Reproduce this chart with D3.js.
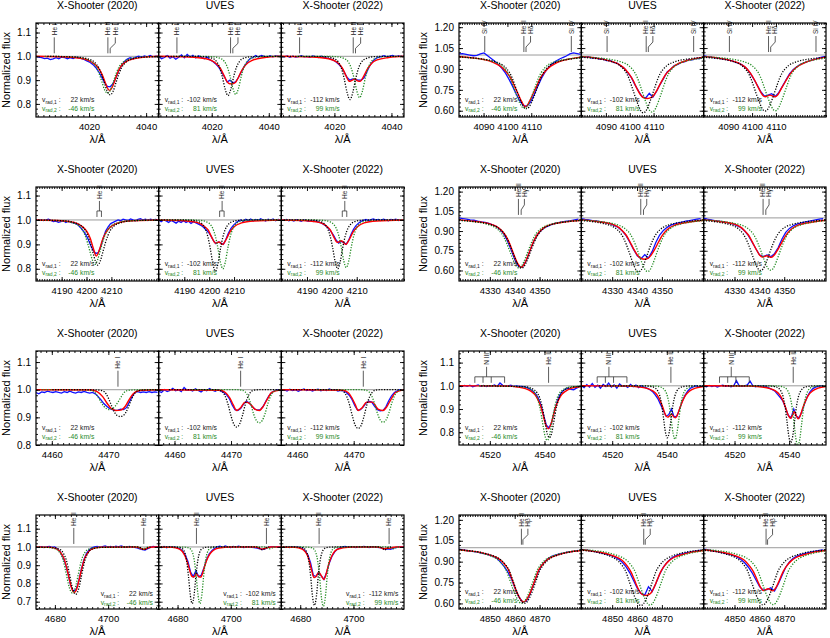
<!DOCTYPE html>
<html>
<head>
<meta charset="utf-8">
<script src="https://cdn.jsdelivr.net/npm/d3@7"></script>
<style>
  body { margin: 0; background: #fff; }
  svg { display: block; font-family: "Liberation Sans", Arial, Helvetica, sans-serif; }
</style>
</head>
<body>
<script>
// one row of three panels per spectral window, one panel per epoch
const epochs = ["X-Shooter (2020)", "UVES", "X-Shooter (2022)"];
const vRad1 = [22, -102, -112];
const vRad2 = [-46, 81, 99];

// wavelengths below are read against the printed axis labels of each window
const windows = ["He I 4026", "H delta", "He II 4200", "H gamma", "He I 4471", "He II 4541", "He II 4686", "H beta"];
const xDomains = [[4001.4, 4044.4], [4079.7, 4131], [4179.7, 4229], [4317.6, 4366.8],
                  [4457.2, 4478.9], [4508.7, 4553.5], [4672.9, 4719], [4837.6, 4886.8]];
const yDomains = [[0.745, 1.14], [0.555, 1.23], [0.75, 1.135], [0.52, 1.235],
                  [0.8, 1.14], [0.745, 1.15], [0.66, 1.175], [0.56, 1.235]];
const xTickValues = [[4020, 4040], [4090, 4100, 4110], [4190, 4200, 4210], [4330, 4340, 4350],
                     [4460, 4470], [4520, 4540], [4680, 4700], [4850, 4860, 4870]];
const xMinorStep = [2, 1, 1, 1, 1, 2, 2, 1];
const yTickValues = [[0.8, 0.9, 1.0, 1.1], [0.6, 0.75, 0.9, 1.05, 1.2], [0.8, 0.9, 1.0, 1.1], [0.6, 0.75, 0.9, 1.05, 1.2],
                     [0.8, 0.9, 1.0, 1.1], [0.8, 0.9, 1.0, 1.1], [0.7, 0.8, 0.9, 1.0, 1.1], [0.6, 0.75, 0.9, 1.05, 1.2]];
const yMinorStep = [0.02, 0.03, 0.02, 0.03, 0.02, 0.02, 0.02, 0.03];
const yTickFormat = [".1f", ".2f", ".1f", ".2f", ".1f", ".1f", ".1f", ".2f"];

// line identifications drawn above the continuum
const lineMarks = [
  [{kind: "single", lam: [4007.8], textLam: [4007.8], text: ["He I"]},
   {kind: "pair", lam: [4026.6, 4027.4], textLam: [4026.6, 4029.2], text: ["He II", "He I"]}],
  [{kind: "single", lam: [4090.5], textLam: [4090.5], text: ["Si IV"]},
   {kind: "pair", lam: [4106.9, 4107.8], textLam: [4106.9, 4109.7], text: ["He II", "Hδ"]},
   {kind: "single", lam: [4126.8], textLam: [4126.8], text: ["Si IV"]}],
  [{kind: "bracket", lam: [4204.2, 4206.0], textLam: [4205.2], text: ["He II"]}],
  [{kind: "pair", lam: [4341.5, 4342.6], textLam: [4341.5, 4343.9], text: ["He II", "Hγ"]}],
  [{kind: "single", lam: [4471.7], textLam: [4471.7], text: ["He I"]}],
  [{kind: "bracket", lam: [4514.5, 4517.5, 4520.5, 4525.4], textLam: [4518.8], text: ["N III"]},
   {kind: "single", lam: [4541.5], textLam: [4541.5], text: ["He II"]}],
  [{kind: "single", lam: [4687.1], textLam: [4687.1], text: ["He II"]},
   {kind: "single", lam: [4713.4], textLam: [4713.4], text: ["He I"]}],
  [{kind: "pair", lam: [4862.7, 4863.3], textLam: [4862.7, 4865.3], text: ["He II", "Hβ"]}]
];

// model components: half profiles (offset from line centre -> flux), per epoch
const profileOffsets = [
  [0, 1, 2, 3, 4, 5.5, 8, 12, 22],
  [0, 1, 2, 3, 4, 5, 6, 7, 8.5, 10, 13, 18, 25, 35],
  [0, 1, 2, 3, 4, 5, 6.5, 9, 13, 25],
  [0, 1, 2, 3, 4, 5, 6, 7, 8.5, 10, 13, 18, 25, 35],
  [0, 0.5, 1, 1.5, 2, 2.5, 3, 4, 6, 12],
  [0, 0.7, 1.4, 2.1, 2.8, 3.5, 4.5, 6, 9, 25],
  [0, 0.7, 1.4, 2.1, 2.8, 3.5, 4.5, 6, 9, 25],
  [0, 1, 2, 3, 4, 5, 6, 7.5, 9, 11, 14, 18, 24, 32]
];
const primaryFlux = [
  [[0.838, 0.852, 0.888, 0.924, 0.952, 0.975, 0.99, 0.997, 1.0],
   [0.835, 0.862, 0.915, 0.955, 0.978, 0.992, 0.998, 1.0, 1.0],
   [0.818, 0.848, 0.905, 0.95, 0.975, 0.99, 0.998, 1.0, 1.0]],
  [[0.615, 0.625, 0.655, 0.695, 0.74, 0.79, 0.835, 0.87, 0.905, 0.928, 0.952, 0.97, 0.983, 0.992],
   [0.585, 0.597, 0.632, 0.678, 0.728, 0.78, 0.828, 0.866, 0.902, 0.926, 0.951, 0.97, 0.983, 0.992],
   [0.598, 0.609, 0.642, 0.686, 0.734, 0.785, 0.831, 0.868, 0.903, 0.927, 0.951, 0.97, 0.983, 0.992]],
  [[0.815, 0.832, 0.868, 0.905, 0.935, 0.957, 0.975, 0.988, 0.996, 1.0],
   [0.79, 0.82, 0.88, 0.93, 0.962, 0.98, 0.992, 0.998, 1.0, 1.0],
   [0.8, 0.828, 0.885, 0.933, 0.963, 0.98, 0.992, 0.998, 1.0, 1.0]],
  [[0.618, 0.63, 0.665, 0.712, 0.762, 0.81, 0.85, 0.882, 0.912, 0.932, 0.953, 0.97, 0.982, 0.99],
   [0.59, 0.603, 0.642, 0.694, 0.749, 0.8, 0.843, 0.877, 0.909, 0.93, 0.952, 0.97, 0.982, 0.99],
   [0.6, 0.612, 0.65, 0.7, 0.753, 0.803, 0.845, 0.878, 0.91, 0.931, 0.952, 0.97, 0.982, 0.99]],
  [[0.903, 0.906, 0.918, 0.94, 0.965, 0.985, 0.995, 0.999, 1.0, 1.0],
   [0.865, 0.875, 0.905, 0.945, 0.975, 0.992, 0.998, 1.0, 1.0, 1.0],
   [0.86, 0.87, 0.902, 0.943, 0.974, 0.991, 0.998, 1.0, 1.0, 1.0]],
  [[0.777, 0.79, 0.83, 0.878, 0.918, 0.947, 0.97, 0.986, 0.996, 1.0],
   [0.776, 0.8, 0.86, 0.92, 0.958, 0.978, 0.991, 0.997, 1.0, 1.0],
   [0.755, 0.782, 0.847, 0.912, 0.953, 0.975, 0.99, 0.997, 1.0, 1.0]],
  [[0.74, 0.752, 0.785, 0.835, 0.885, 0.927, 0.963, 0.987, 0.997, 1.0],
   [0.69, 0.735, 0.84, 0.925, 0.97, 0.988, 0.996, 0.999, 1.0, 1.0],
   [0.68, 0.725, 0.835, 0.922, 0.968, 0.987, 0.996, 0.999, 1.0, 1.0]],
  [[0.6, 0.61, 0.64, 0.68, 0.73, 0.78, 0.83, 0.875, 0.905, 0.93, 0.95, 0.968, 0.982, 0.99],
   [0.585, 0.596, 0.628, 0.67, 0.722, 0.775, 0.826, 0.872, 0.903, 0.928, 0.95, 0.968, 0.982, 0.99],
   [0.59, 0.6, 0.632, 0.674, 0.725, 0.777, 0.828, 0.873, 0.904, 0.929, 0.95, 0.968, 0.982, 0.99]]
];
const secondaryFlux = [
  [[0.845, 0.858, 0.893, 0.928, 0.955, 0.976, 0.99, 0.997, 1.0],
   [0.84, 0.866, 0.918, 0.957, 0.979, 0.992, 0.998, 1.0, 1.0],
   [0.826, 0.855, 0.91, 0.952, 0.977, 0.991, 0.998, 1.0, 1.0]],
  [[0.618, 0.628, 0.658, 0.698, 0.743, 0.793, 0.838, 0.872, 0.907, 0.93, 0.953, 0.97, 0.983, 0.992],
   [0.59, 0.602, 0.636, 0.681, 0.731, 0.782, 0.83, 0.867, 0.903, 0.927, 0.951, 0.97, 0.983, 0.992],
   [0.6, 0.611, 0.644, 0.688, 0.736, 0.786, 0.832, 0.869, 0.904, 0.927, 0.951, 0.97, 0.983, 0.992]],
  [[0.818, 0.835, 0.87, 0.907, 0.937, 0.958, 0.976, 0.988, 0.996, 1.0],
   [0.8, 0.828, 0.885, 0.933, 0.964, 0.981, 0.992, 0.998, 1.0, 1.0],
   [0.805, 0.832, 0.888, 0.935, 0.965, 0.981, 0.992, 0.998, 1.0, 1.0]],
  [[0.62, 0.632, 0.667, 0.714, 0.763, 0.811, 0.851, 0.883, 0.912, 0.932, 0.953, 0.97, 0.982, 0.99],
   [0.592, 0.605, 0.644, 0.696, 0.75, 0.801, 0.844, 0.878, 0.909, 0.93, 0.952, 0.97, 0.982, 0.99],
   [0.602, 0.614, 0.652, 0.702, 0.754, 0.804, 0.846, 0.879, 0.91, 0.931, 0.952, 0.97, 0.982, 0.99]],
  [[0.928, 0.931, 0.94, 0.955, 0.972, 0.988, 0.996, 0.999, 1.0, 1.0],
   [0.88, 0.888, 0.912, 0.948, 0.977, 0.992, 0.998, 1.0, 1.0, 1.0],
   [0.882, 0.89, 0.914, 0.949, 0.977, 0.992, 0.998, 1.0, 1.0, 1.0]],
  [[0.765, 0.779, 0.82, 0.87, 0.912, 0.943, 0.968, 0.985, 0.996, 1.0],
   [0.77, 0.795, 0.855, 0.917, 0.956, 0.977, 0.99, 0.997, 1.0, 1.0],
   [0.742, 0.77, 0.838, 0.907, 0.95, 0.974, 0.99, 0.997, 1.0, 1.0]],
  [[0.748, 0.76, 0.792, 0.84, 0.888, 0.93, 0.964, 0.987, 0.997, 1.0],
   [0.69, 0.735, 0.84, 0.925, 0.97, 0.988, 0.996, 0.999, 1.0, 1.0],
   [0.675, 0.72, 0.832, 0.92, 0.967, 0.987, 0.996, 0.999, 1.0, 1.0]],
  [[0.6, 0.61, 0.64, 0.68, 0.73, 0.78, 0.83, 0.875, 0.905, 0.93, 0.95, 0.968, 0.982, 0.99],
   [0.588, 0.599, 0.631, 0.673, 0.724, 0.776, 0.827, 0.872, 0.903, 0.928, 0.95, 0.968, 0.982, 0.99],
   [0.592, 0.602, 0.634, 0.676, 0.726, 0.778, 0.828, 0.873, 0.904, 0.929, 0.95, 0.968, 0.982, 0.99]]
];
const primaryCenter = [[4027.4, 4025.7, 4025.45], [4108.0, 4105.75, 4105.5], [4204.55, 4202.5, 4202.35], [4342.75, 4340.65, 4340.5],
                       [4472.1, 4471.0, 4470.8], [4541.8, 4540.2, 4540.6], [4687.8, 4685.5, 4685.35], [4863.95, 4861.55, 4861.4]];
const secondaryCenter = [[4026.5, 4028.4, 4028.85], [4107.1, 4109.35, 4109.75], [4203.4, 4205.5, 4205.8], [4341.7, 4344.25, 4344.5],
                         [4470.2, 4475.0, 4475.2], [4541.0, 4543.0, 4543.2], [4686.55, 4688.4, 4688.7], [4862.8, 4865.25, 4865.55]];

// weak He I 4713 line in the He II 4686 window
const weakOffsets = [0, 0.7, 1.4, 2.5];
const weakCenter1 = [4713.6, 4711.9, 4711.8];
const weakCenter2 = [4713.0, 4714.7, 4715.0];
const weakFlux1 = [[0.985, 0.989, 0.996, 1.0], [0.984, 0.99, 0.997, 1.0], [0.984, 0.99, 0.997, 1.0]];
const weakFlux2 = [[0.99, 0.992, 0.997, 1.0], [0.99, 0.993, 0.998, 1.0], [0.99, 0.993, 0.998, 1.0]];

// composite model (red), [wavelength, flux]
const compositeFlux = [
  [[[4001.4,1.0],[4012,0.997],[4018,0.99],[4021,0.975],[4023,0.955],[4024.5,0.925],[4025.5,0.895],[4026.3,0.87],[4027.1,0.857],[4027.9,0.865],[4028.8,0.89],[4029.8,0.925],[4031,0.955],[4033,0.978],[4036,0.99],[4040,0.997],[4044.4,1.0]],
   [[4001.4,1.0],[4012,0.997],[4018,0.99],[4021,0.975],[4023,0.95],[4024.3,0.92],[4025.3,0.895],[4026.3,0.885],[4027.3,0.885],[4028.3,0.89],[4029.3,0.91],[4030.5,0.94],[4032,0.965],[4034,0.982],[4038,0.994],[4044.4,1.0]],
   [[4001.4,1.0],[4012,0.997],[4018,0.99],[4021,0.975],[4022.8,0.95],[4024,0.92],[4025.2,0.895],[4026.3,0.9],[4027.2,0.905],[4028.1,0.897],[4029.1,0.895],[4030.2,0.915],[4031.5,0.945],[4033,0.97],[4035,0.985],[4039,0.995],[4044.4,1.0]]],
  [[[4079.7,0.99],[4085,0.98],[4090,0.968],[4094,0.948],[4097,0.92],[4099.5,0.88],[4101.5,0.83],[4103,0.775],[4104.5,0.72],[4106,0.665],[4107.6,0.628],[4109.2,0.665],[4110.7,0.72],[4112.2,0.775],[4113.7,0.83],[4115.7,0.88],[4118.2,0.92],[4121,0.948],[4125,0.968],[4131,0.985]],
   [[4079.7,0.99],[4085,0.98],[4090,0.965],[4094,0.945],[4097,0.915],[4099.5,0.87],[4101.5,0.815],[4103,0.76],[4104.5,0.715],[4106,0.692],[4107.3,0.688],[4108.6,0.692],[4110,0.71],[4111.5,0.75],[4113,0.8],[4115,0.86],[4117.5,0.905],[4120.5,0.94],[4125,0.965],[4131,0.985]],
   [[4079.7,0.99],[4085,0.98],[4090,0.965],[4094,0.945],[4097,0.915],[4099.3,0.87],[4101.2,0.815],[4102.8,0.76],[4104.3,0.715],[4105.5,0.7],[4107.5,0.712],[4109.5,0.7],[4110.8,0.715],[4112.3,0.76],[4114,0.81],[4116,0.865],[4118.5,0.91],[4121.5,0.94],[4125.5,0.965],[4131,0.985]]],
  [[[4179.7,1.0],[4190,0.997],[4195,0.99],[4198,0.975],[4200,0.955],[4201.5,0.925],[4202.7,0.885],[4203.9,0.852],[4205.1,0.875],[4206.3,0.915],[4207.6,0.945],[4209.5,0.97],[4212,0.985],[4216,0.995],[4229,1.0]],
   [[4179.7,1.0],[4190,0.997],[4195,0.99],[4197.5,0.978],[4199.5,0.96],[4201,0.93],[4202.5,0.905],[4204,0.91],[4205.4,0.9],[4206.8,0.92],[4208.3,0.95],[4210,0.972],[4213,0.988],[4218,0.996],[4229,1.0]],
   [[4179.7,1.0],[4190,0.997],[4195,0.99],[4197.5,0.978],[4199.3,0.96],[4200.8,0.93],[4202.2,0.908],[4203.8,0.915],[4205.6,0.9],[4207,0.92],[4208.5,0.95],[4210.3,0.972],[4213,0.988],[4218,0.996],[4229,1.0]]],
  [[[4317.6,0.985],[4322,0.977],[4327,0.966],[4330,0.955],[4332.6,0.935],[4334.1,0.915],[4335.6,0.885],[4337.1,0.84],[4338.6,0.775],[4340.1,0.7],[4341.3,0.65],[4342.6,0.625],[4343.9,0.65],[4345.1,0.7],[4346.6,0.775],[4348.1,0.84],[4349.6,0.885],[4351.1,0.915],[4352.6,0.935],[4355.6,0.955],[4360.6,0.97],[4366.8,0.982]],
   [[4317.6,0.985],[4322,0.977],[4327,0.965],[4330,0.952],[4332,0.935],[4334,0.905],[4335.6,0.87],[4337.1,0.82],[4338.6,0.765],[4340.1,0.718],[4341.6,0.692],[4342.9,0.686],[4344.2,0.69],[4345.6,0.715],[4347.1,0.76],[4348.6,0.815],[4350.1,0.865],[4351.6,0.9],[4353.1,0.925],[4355.6,0.948],[4360.6,0.967],[4366.8,0.982]],
   [[4317.6,0.985],[4322,0.977],[4327,0.965],[4330,0.952],[4332,0.935],[4334,0.905],[4335.6,0.87],[4337.1,0.82],[4338.6,0.765],[4340,0.72],[4341.3,0.702],[4343,0.712],[4344.8,0.7],[4346.1,0.72],[4347.6,0.765],[4349.1,0.815],[4350.6,0.865],[4352.1,0.9],[4353.6,0.925],[4356,0.948],[4361,0.967],[4366.8,0.982]]],
  [[[4457.2,1.0],[4467,0.999],[4468,0.993],[4469,0.975],[4469.8,0.95],[4470.5,0.932],[4471.3,0.925],[4472.2,0.926],[4473,0.94],[4473.7,0.965],[4474.4,0.985],[4475.5,0.997],[4478.9,1.0]],
   [[4457.2,1.0],[4468,0.998],[4469,0.99],[4469.8,0.97],[4470.4,0.945],[4471,0.925],[4471.7,0.935],[4472.5,0.955],[4473.3,0.95],[4474.2,0.93],[4475,0.925],[4475.7,0.94],[4476.4,0.965],[4477.2,0.99],[4478.9,1.0]],
   [[4457.2,1.0],[4468,0.998],[4469,0.99],[4469.7,0.97],[4470.3,0.945],[4470.8,0.925],[4471.5,0.935],[4472.3,0.955],[4473.3,0.955],[4474.3,0.93],[4475.2,0.925],[4475.9,0.94],[4476.6,0.965],[4477.4,0.99],[4478.9,1.0]]],
  [[[4508.7,1.0],[4525,0.999],[4530,0.995],[4533,0.988],[4535,0.977],[4536.5,0.962],[4537.6,0.94],[4538.6,0.912],[4539.5,0.875],[4540.4,0.835],[4541.4,0.815],[4542.4,0.835],[4543.3,0.875],[4544.2,0.912],[4545.2,0.94],[4546.3,0.962],[4547.8,0.977],[4550,0.99],[4553.5,0.997]],
   [[4508.7,1.0],[4525,0.999],[4530,0.995],[4533,0.988],[4535,0.977],[4536.5,0.96],[4537.6,0.935],[4538.6,0.905],[4539.5,0.875],[4540.3,0.865],[4541.1,0.872],[4541.7,0.878],[4542.3,0.87],[4543.1,0.862],[4543.9,0.875],[4544.8,0.905],[4545.8,0.935],[4546.9,0.96],[4548.4,0.978],[4550.5,0.99],[4553.5,0.997]],
   [[4508.7,1.0],[4525,0.999],[4530,0.995],[4533,0.988],[4535,0.978],[4536.5,0.962],[4537.6,0.94],[4538.6,0.91],[4539.6,0.875],[4540.5,0.86],[4541.3,0.875],[4541.9,0.888],[4542.5,0.875],[4543.3,0.858],[4544.1,0.872],[4545,0.905],[4546,0.935],[4547.1,0.96],[4548.6,0.978],[4550.6,0.99],[4553.5,0.997]]],
  [[[4672.9,1.0],[4678,0.998],[4681,0.987],[4682.5,0.962],[4683.7,0.925],[4684.6,0.875],[4685.5,0.82],[4686.4,0.77],[4687.3,0.752],[4688.2,0.77],[4689.1,0.82],[4690,0.875],[4690.9,0.925],[4692.1,0.962],[4693.6,0.987],[4697,0.998],[4710,1.0],[4711.5,0.997],[4712.5,0.99],[4713.4,0.987],[4714.3,0.99],[4715.3,0.997],[4717,1.0],[4719,1.0]],
   [[4672.9,1.0],[4678,0.998],[4680.5,0.99],[4681.8,0.975],[4682.8,0.95],[4683.7,0.915],[4684.5,0.875],[4685.3,0.84],[4686.1,0.835],[4687,0.855],[4687.9,0.838],[4688.7,0.835],[4689.5,0.86],[4690.3,0.9],[4691.2,0.935],[4692.2,0.962],[4693.5,0.982],[4695.5,0.994],[4700,1.0],[4709,1.0],[4710.5,0.995],[4711.5,0.988],[4712.5,0.99],[4713.5,0.995],[4715,1.0],[4719,1.0]],
   [[4672.9,1.0],[4678,0.998],[4680.5,0.99],[4681.8,0.975],[4682.8,0.95],[4683.6,0.912],[4684.4,0.865],[4685.2,0.832],[4686,0.84],[4687,0.862],[4688,0.84],[4688.9,0.822],[4689.7,0.85],[4690.5,0.895],[4691.4,0.935],[4692.4,0.965],[4693.7,0.985],[4696,0.995],[4700,1.0],[4709,1.0],[4710.5,0.995],[4711.5,0.99],[4712.5,0.993],[4713.5,0.992],[4714.5,0.996],[4716,1.0],[4719,1.0]]],
  [[[4837.6,0.985],[4841,0.978],[4845.6,0.968],[4849.6,0.95],[4852.6,0.93],[4854.6,0.907],[4856.1,0.878],[4857.6,0.838],[4858.6,0.79],[4859.6,0.742],[4860.6,0.692],[4861.6,0.652],[4862.6,0.622],[4863.6,0.612],[4864.6,0.622],[4865.6,0.652],[4866.6,0.692],[4867.6,0.742],[4868.6,0.79],[4869.6,0.838],[4871.1,0.878],[4872.6,0.907],[4874.6,0.93],[4877.6,0.95],[4881.6,0.968],[4886.8,0.98]],
   [[4837.6,0.985],[4841,0.978],[4845.6,0.966],[4849.6,0.947],[4852.6,0.925],[4854.6,0.9],[4856.1,0.868],[4857.6,0.825],[4858.6,0.785],[4859.6,0.74],[4860.6,0.7],[4861.6,0.672],[4862.6,0.66],[4863.6,0.658],[4864.6,0.662],[4865.6,0.675],[4866.6,0.705],[4867.6,0.745],[4868.6,0.79],[4869.6,0.83],[4871.1,0.872],[4872.6,0.902],[4874.6,0.928],[4877.6,0.948],[4881.6,0.967],[4886.8,0.98]],
   [[4837.6,0.985],[4841,0.978],[4845.6,0.966],[4849.6,0.947],[4852.6,0.925],[4854.6,0.9],[4856.1,0.868],[4857.6,0.828],[4858.6,0.79],[4859.6,0.748],[4860.6,0.712],[4861.7,0.692],[4863.6,0.705],[4865.5,0.69],[4866.6,0.712],[4867.6,0.748],[4868.6,0.79],[4869.6,0.83],[4871.1,0.872],[4872.6,0.902],[4874.6,0.928],[4877.6,0.948],[4881.6,0.967],[4886.8,0.98]]]
];

// observed spectra (blue), sampled from the window start with a fixed step
const observedStart = [4001.4, 4079.7, 4179.7, 4317.6, 4457.2, 4508.7, 4672.9, 4837.6];
const observedStep = [1, 1.5, 1, 1.5, 0.5, 1, 1, 1.5];
const observedFlux = [
  [[1.0,0.997,0.994,0.99,0.992,0.986,0.989,0.994,0.99,0.997,0.995,0.99,0.994,0.991,0.996,0.993,0.99,0.986,0.98,0.974,0.965,0.952,0.935,0.913,0.89,0.874,0.872,0.885,0.91,0.94,0.962,0.978,0.988,0.994,0.99,0.997,1.001,0.996,1.002,0.998,1.004,0.998,1.001,1.0],
   [1.0,0.99,0.995,1.003,0.992,0.998,0.988,0.996,1.006,0.994,1.008,0.997,1.004,0.993,1.002,0.996,0.99,0.997,0.985,0.978,0.968,0.955,0.935,0.915,0.892,0.9,0.888,0.893,0.912,0.935,0.958,0.975,0.99,0.995,1.003,0.997,1.004,1.0,0.996,1.003,0.998,1.002,1.0,1.001],
   [1.0,0.998,1.002,0.996,1.001,0.997,0.999,1.003,0.998,1.0,0.996,1.002,0.999,0.995,1.0,0.996,0.992,0.99,0.985,0.978,0.968,0.955,0.935,0.912,0.9,0.905,0.902,0.9,0.9,0.91,0.935,0.96,0.978,0.99,0.996,0.999,1.003,0.998,1.001,1.004,0.999,1.002,1.0,1.0]],
  [[1.008,1.01,1.005,1.0,0.995,0.998,1.008,1.015,0.995,0.975,0.955,0.932,0.905,0.87,0.825,0.775,0.72,0.67,0.637,0.633,0.662,0.715,0.775,0.83,0.875,0.91,0.935,0.955,0.97,0.982,0.993,1.008,1.016,1.01,1.004],
   [0.99,0.984,0.988,0.978,0.981,0.97,0.972,0.96,0.962,0.948,0.942,0.922,0.906,0.872,0.838,0.786,0.742,0.7,0.692,0.725,0.698,0.738,0.788,0.832,0.878,0.898,0.924,0.932,0.948,0.952,0.966,0.965,0.976,0.975,0.985],
   [0.995,0.988,0.986,0.98,0.979,0.972,0.97,0.963,0.958,0.948,0.94,0.924,0.904,0.87,0.828,0.783,0.735,0.705,0.712,0.722,0.702,0.73,0.775,0.82,0.865,0.895,0.915,0.932,0.944,0.953,0.962,0.968,0.978,0.985,0.99]],
  [[1.0,0.998,1.0,0.997,1.0,1.003,0.998,0.993,0.995,0.99,0.993,0.997,0.99,0.995,0.99,0.988,0.985,0.978,0.968,0.955,0.94,0.92,0.895,0.875,0.863,0.866,0.89,0.925,0.955,0.972,0.985,0.99,0.995,1.0,0.997,1.003,1.0,0.998,1.004,1.0,0.997,1.002,1.005,1.0,1.003,0.998,1.003,1.0,1.002,1.0],
   [1.0,0.993,1.0,0.996,0.99,0.998,0.993,0.987,0.995,0.99,0.997,0.99,0.995,0.986,0.993,0.988,0.983,0.978,0.97,0.96,0.95,0.935,0.915,0.903,0.91,0.905,0.9,0.92,0.945,0.965,0.978,0.988,0.995,1.0,0.994,1.003,0.998,1.004,0.996,1.002,0.998,1.005,1.0,0.996,1.003,0.999,1.004,0.997,1.002,1.0],
   [1.0,0.998,1.002,0.997,1.0,0.996,1.001,0.998,0.995,1.0,0.997,0.994,0.998,0.993,0.996,0.99,0.988,0.982,0.975,0.965,0.952,0.937,0.918,0.905,0.912,0.908,0.9,0.915,0.94,0.962,0.977,0.987,0.994,0.998,1.002,0.997,1.001,1.004,0.999,1.002,0.998,1.003,1.0,0.997,1.002,1.0,1.003,0.998,1.001,1.0]],
  [[1.0,0.995,0.99,0.985,0.982,0.975,0.97,0.966,0.958,0.948,0.935,0.912,0.878,0.825,0.755,0.68,0.63,0.628,0.675,0.75,0.82,0.872,0.905,0.928,0.94,0.952,0.96,0.966,0.972,0.976,0.98,0.985,0.99],
   [0.995,0.988,0.985,0.98,0.978,0.972,0.966,0.96,0.952,0.94,0.925,0.9,0.865,0.815,0.76,0.712,0.69,0.72,0.695,0.745,0.815,0.87,0.905,0.928,0.945,0.955,0.962,0.968,0.975,0.98,0.985,0.99,0.995],
   [0.998,0.99,0.985,0.98,0.976,0.972,0.966,0.96,0.952,0.94,0.925,0.9,0.865,0.815,0.765,0.718,0.705,0.718,0.705,0.728,0.775,0.84,0.89,0.92,0.94,0.952,0.96,0.968,0.974,0.98,0.985,0.99,0.995]],
  [[0.99,0.985,0.992,0.99,0.995,0.992,0.99,0.993,0.99,0.988,0.993,0.99,0.995,0.99,0.988,0.992,0.99,0.994,0.99,0.988,0.99,0.985,0.975,0.963,0.95,0.94,0.932,0.928,0.925,0.926,0.93,0.928,0.935,0.955,0.975,0.99,0.993,0.99,0.992,0.99,0.993,0.99,0.992,0.99],
   [0.995,0.99,1.0,0.993,0.997,1.005,0.996,1.0,0.993,1.008,0.998,1.0,0.995,1.003,0.997,0.992,1.0,0.996,1.004,0.998,0.994,1.0,0.995,0.99,0.982,0.968,0.945,0.928,0.925,0.932,0.948,0.958,0.953,0.94,0.93,0.926,0.928,0.94,0.96,0.978,0.99,0.996,1.0,0.997],
   [0.998,1.0,0.995,1.002,0.997,1.0,0.994,0.999,1.003,0.997,1.0,0.995,0.999,1.002,0.996,1.0,0.997,1.003,0.998,1.0,0.995,0.998,0.996,0.99,0.98,0.965,0.942,0.926,0.928,0.938,0.952,0.958,0.955,0.94,0.928,0.924,0.925,0.938,0.96,0.978,0.99,0.996,1.0,0.998]],
  [[1.0,0.997,1.002,0.998,1.003,0.996,1.0,1.004,0.998,1.002,0.997,1.001,0.999,1.004,0.997,1.012,1.002,0.998,1.0,1.003,0.997,1.0,0.998,0.997,0.995,0.992,0.986,0.978,0.966,0.948,0.918,0.872,0.83,0.818,0.845,0.895,0.935,0.962,0.978,0.986,0.99,0.985,0.983,0.99,0.995],
   [1.0,0.992,1.005,0.995,1.01,0.994,1.003,0.99,1.006,0.997,1.012,0.995,1.004,0.99,1.008,0.998,1.0,0.993,1.006,0.996,1.003,0.992,1.0,0.994,0.99,0.984,0.976,0.962,0.945,0.92,0.895,0.87,0.875,0.9,0.865,0.87,0.9,0.935,0.96,0.978,0.99,0.995,1.0,0.996,1.0],
   [1.0,0.996,1.002,0.997,1.001,0.995,1.0,1.003,0.998,1.001,0.996,1.0,1.022,1.0,0.998,1.0,1.004,1.02,1.0,0.996,1.001,0.998,1.0,0.996,0.99,0.984,0.978,0.964,0.95,0.935,0.905,0.872,0.862,0.9,0.868,0.862,0.89,0.925,0.955,0.975,0.988,0.994,0.998,1.0,1.0]],
  [[1.0,0.998,1.002,0.997,1.0,1.003,0.998,1.0,0.99,0.975,0.95,0.91,0.855,0.79,0.758,0.765,0.81,0.875,0.93,0.965,0.985,0.995,1.0,1.003,0.998,1.002,1.006,0.999,1.003,0.998,1.004,1.0,1.006,1.0,0.998,1.003,1.0,0.998,0.995,0.99,0.985,0.983,0.99,0.997,1.003,1.0,1.002],
   [1.0,0.997,1.003,0.996,1.002,0.998,1.0,0.995,0.99,0.978,0.955,0.92,0.862,0.838,0.87,0.838,0.845,0.885,0.93,0.962,0.98,0.993,1.0,1.004,0.998,1.005,1.0,0.997,1.003,0.999,1.004,1.0,0.996,1.002,1.0,0.998,0.996,0.993,0.99,0.986,0.99,0.996,1.0,1.002,1.0,1.0,1.0],
   [1.0,0.998,1.002,0.997,1.001,0.999,1.0,0.996,0.99,0.978,0.955,0.912,0.845,0.838,0.862,0.842,0.822,0.86,0.91,0.948,0.972,0.987,0.995,1.0,1.003,0.998,1.002,1.0,0.997,1.002,0.999,1.003,1.0,0.997,1.002,1.0,0.998,0.996,0.993,0.988,0.99,0.987,0.992,0.997,1.0,1.0,1.0]],
  [[0.99,0.985,0.98,0.976,0.972,0.968,0.962,0.956,0.948,0.94,0.928,0.9,0.87,0.83,0.78,0.71,0.648,0.612,0.615,0.665,0.74,0.815,0.868,0.9,0.925,0.94,0.948,0.955,0.962,0.968,0.972,0.976,0.98],
   [0.988,0.985,0.98,0.975,0.97,0.965,0.958,0.952,0.944,0.932,0.918,0.895,0.862,0.82,0.765,0.71,0.672,0.66,0.72,0.685,0.745,0.81,0.86,0.895,0.922,0.938,0.948,0.956,0.963,0.968,0.973,0.978,0.982],
   [0.99,0.986,0.98,0.976,0.97,0.965,0.958,0.952,0.944,0.932,0.916,0.892,0.86,0.82,0.77,0.72,0.695,0.7,0.712,0.69,0.74,0.8,0.86,0.898,0.924,0.94,0.95,0.958,0.964,0.97,0.975,0.98,0.984]]
];

// ---------------------------------------------------------------- layout
const width = 830, height = 638;
const colLeft = [36, 459], colWidth = [368, 367];
const rowTop = [23, 187, 351, 515], panelH = 94;
const yLabelOffset = [26, 32];

const svg = d3.select("body").append("svg")
    .attr("width", width)
    .attr("height", height);

const smooth = d3.line().curve(d3.curveMonotoneX);
const jagged = d3.line();

function mirrored(offsets, flux, centre) {
  const pts = [];
  for (let i = offsets.length - 1; i > 0; i--) pts.push([centre - offsets[i], flux[i]]);
  for (let i = 0; i < offsets.length; i++) pts.push([centre + offsets[i], flux[i]]);
  return pts;
}

function withWeakLine(pts, centre, flux) {
  const reach = weakOffsets[weakOffsets.length - 1];
  const weak = mirrored(weakOffsets, flux, centre);
  return pts.filter(d => d[0] < centre - reach || d[0] > centre + reach)
    .concat(weak).sort((a, b) => a[0] - b[0]);
}

function minorValues(domain, step) {
  const out = [];
  const start = Math.ceil(domain[0] / step - 1e-9);
  for (let k = start; k * step <= domain[1] + 1e-9; k++) out.push(+(k * step).toFixed(4));
  return out;
}

windows.forEach((name, g) => {
  const col = g % 2, row = Math.floor(g / 2);
  const pw = colWidth[col] / 3;
  const top = rowTop[row];

  epochs.forEach((title, e) => {
    const left = colLeft[col] + e * pw;
    const x = d3.scaleLinear().domain(xDomains[g]).range([left, left + pw]);
    const y = d3.scaleLinear().domain(yDomains[g]).range([top + panelH, top]);
    const panel = svg.append("g");

    const clipId = `clip-${g}-${e}`;
    svg.append("clipPath").attr("id", clipId)
      .append("rect").attr("x", left).attr("y", top).attr("width", pw).attr("height", panelH);

    panel.append("text")
        .attr("x", left + pw / 2).attr("y", top - 14)
        .attr("text-anchor", "middle")
        .attr("font-size", 10.5)
        .text(title);

    // continuum reference
    panel.append("line")
        .attr("x1", left).attr("x2", left + pw)
        .attr("y1", y(1)).attr("y2", y(1))
        .attr("stroke", "#9a9a9a").attr("stroke-width", 1);

    const plot = panel.append("g").attr("clip-path", `url(#${clipId})`);
    const toPx = pts => pts.map(d => [x(d[0]), y(d[1])]);

    // observed spectrum
    const obs = observedFlux[g][e].map((f, i) => [observedStart[g] + i * observedStep[g], f]);
    plot.append("path")
        .attr("d", jagged(toPx(obs)))
        .attr("fill", "none").attr("stroke", "#1010ff").attr("stroke-width", 1.3);

    // composite model
    plot.append("path")
        .attr("d", smooth(toPx(compositeFlux[g][e])))
        .attr("fill", "none").attr("stroke", "#ff0000").attr("stroke-width", 1.4);

    // individual components
    let p1 = mirrored(profileOffsets[g], primaryFlux[g][e], primaryCenter[g][e]);
    let p2 = mirrored(profileOffsets[g], secondaryFlux[g][e], secondaryCenter[g][e]);
    if (g === 6) {
      p1 = withWeakLine(p1, weakCenter1[e], weakFlux1[e]);
      p2 = withWeakLine(p2, weakCenter2[e], weakFlux2[e]);
    }
    plot.append("path")
        .attr("d", smooth(toPx(p2)))
        .attr("fill", "none").attr("stroke", "#1f8a1f").attr("stroke-width", 1.3)
        .attr("stroke-dasharray", "1.2,1.5");
    plot.append("path")
        .attr("d", smooth(toPx(p1)))
        .attr("fill", "none").attr("stroke", "#000").attr("stroke-width", 1.3)
        .attr("stroke-dasharray", "1.2,1.5");

    // line identifications
    const y1 = y(1);
    const mk = panel.append("g").attr("stroke", "#333").attr("stroke-width", 0.8).attr("fill", "none");
    const label = (lam, txt) => panel.append("text")
        .attr("transform", `translate(${x(lam)},${y1 - 21}) rotate(-90)`)
        .attr("dy", "0.35em")
        .attr("font-size", 6.5)
        .attr("fill", "#222")
        .text(txt);
    lineMarks[g].forEach(m => {
      if (m.kind === "single") {
        mk.append("path").attr("d", `M${x(m.lam[0])},${y1 - 3}V${y1 - 19}`);
        label(m.textLam[0], m.text[0]);
      } else if (m.kind === "pair") {
        mk.append("path").attr("d", `M${x(m.lam[0])},${y1 - 3}V${y1 - 19}`);
        mk.append("path").attr("d", `M${x(m.lam[1])},${y1 - 3}V${y1 - 8}L${x(m.textLam[1])},${y1 - 13}V${y1 - 19}`);
        label(m.textLam[0], m.text[0]);
        label(m.textLam[1], m.text[1]);
      } else {
        const xs = m.lam.map(x);
        mk.append("path").attr("d", `M${xs[0]},${y1 - 9}H${xs[xs.length - 1]}`);
        xs.forEach(v => mk.append("path").attr("d", `M${v},${y1 - 9}V${y1 - 3}`));
        mk.append("path").attr("d", `M${x(m.textLam[0])},${y1 - 9}V${y1 - 19}`);
        label(m.textLam[0], m.text[0]);
      }
    });

    // radial velocities
    const atRight = g === 6;
    const tx = atRight ? left + pw - 58 : left + 6;
    const ty = atRight ? top + panelH - 13 : top + panelH - 15;
    [[vRad1[e], "1", "#222"], [vRad2[e], "2", "#2a8a2a"]].forEach(([v, k, c], i) => {
      const yy = ty + i * 8.5;
      const t = panel.append("text").attr("x", tx).attr("y", yy).attr("font-size", 6.8).attr("fill", c);
      t.append("tspan").text("v");
      t.append("tspan").attr("font-size", 5).attr("dy", 1.5).text(`rad,${k}`);
      t.append("tspan").attr("dy", -1.5).text(" :");
      panel.append("text").attr("x", tx + 36).attr("y", yy).attr("text-anchor", "end")
          .attr("font-size", 6.8).attr("fill", c).text(v);
      panel.append("text").attr("x", tx + 38).attr("y", yy)
          .attr("font-size", 6.8).attr("fill", c).text("km/s");
    });

    // axes: inward ticks on all four sides
    const xMinor = minorValues(xDomains[g], xMinorStep[g]);
    const yMinor = minorValues(yDomains[g], yMinorStep[g]);
    const fmtY = d3.format(yTickFormat[g]);
    const axes = panel.append("g");
    const tidy = sel => { sel.select(".domain").remove(); sel.attr("font-family", null); };

    axes.append("g").attr("transform", `translate(0,${top + panelH})`)
        .call(d3.axisBottom(x).tickValues(xMinor).tickSize(-2).tickFormat("")).call(tidy);
    axes.append("g").attr("transform", `translate(0,${top})`)
        .call(d3.axisTop(x).tickValues(xMinor).tickSize(-2).tickFormat("")).call(tidy);
    axes.append("g").attr("transform", `translate(0,${top})`)
        .call(d3.axisTop(x).tickValues(xTickValues[g]).tickSize(-4).tickFormat("")).call(tidy);
    axes.append("g").attr("transform", `translate(0,${top + panelH})`)
        .call(d3.axisBottom(x).tickValues(xTickValues[g]).tickSize(-4).tickPadding(6.5).tickFormat(d3.format("d")))
        .call(tidy).attr("font-size", 9.5);

    axes.append("g").attr("transform", `translate(${left},0)`)
        .call(d3.axisLeft(y).tickValues(yMinor).tickSize(-2).tickFormat("")).call(tidy);
    axes.append("g").attr("transform", `translate(${left + pw},0)`)
        .call(d3.axisRight(y).tickValues(yMinor).tickSize(-2).tickFormat("")).call(tidy);
    axes.append("g").attr("transform", `translate(${left + pw},0)`)
        .call(d3.axisRight(y).tickValues(yTickValues[g]).tickSize(-4).tickFormat("")).call(tidy);
    axes.append("g").attr("transform", `translate(${left},0)`)
        .call(d3.axisLeft(y).tickValues(yTickValues[g]).tickSize(-4).tickPadding(5)
          .tickFormat(e === 0 ? fmtY : ""))
        .call(tidy).attr("font-size", 10);
    axes.selectAll("line").attr("stroke", "#000").attr("stroke-width", 0.9);

    panel.append("rect")
        .attr("x", left).attr("y", top).attr("width", pw).attr("height", panelH)
        .attr("fill", "none").attr("stroke", "#000").attr("stroke-width", 1.2);

    panel.append("text")
        .attr("x", left + pw / 2).attr("y", top + panelH + 26)
        .attr("text-anchor", "middle").attr("font-size", 11)
        .text("λ/Å");

    if (e === 0) {
      panel.append("text")
          .attr("transform", `translate(${left - yLabelOffset[col]},${top + panelH / 2}) rotate(-90)`)
          .attr("text-anchor", "middle").attr("font-size", 11)
          .text("Normalized flux");
    }
  });
});
</script>
</body>
</html>
